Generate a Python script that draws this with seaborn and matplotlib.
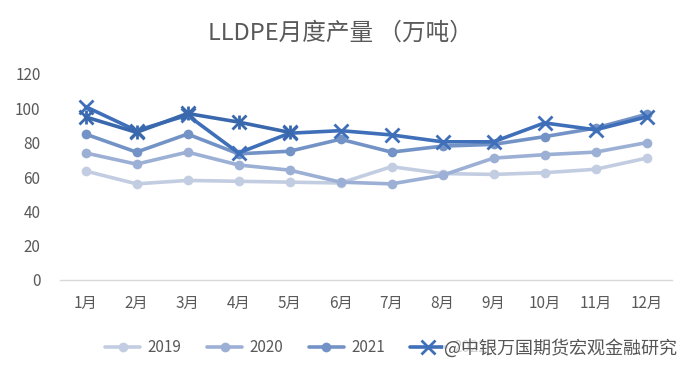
import matplotlib
matplotlib.use("Agg")
import matplotlib.pyplot as plt
import seaborn as sns
import pandas as pd

months = ["1月", "2月", "3月", "4月", "5月", "6月", "7月", "8月", "9月", "10月", "11月", "12月"]
y2019 = [63.5, 56, 58, 57.5, 57, 56.5, 66, 62, 61.5, 62.5, 64.5, 71]
y2020 = [74, 67.5, 74.5, 67, 64, 57, 56, 61, 71, 73, 74.5, 80]
y2021 = [85, 74.5, 85, 73.5, 75, 82, 74.5, 78, 79, 83.5, 88.5, 96.5]
y2022 = [101, 87, 96, 74, 85.5, 87, 84.5, 80.5, 80.5, 91.5, 87.5, 95]
y2023 = [95, 86, 97, 92, 86]

series = [
    ("2019", y2019, "#c3cde2", "o", 7),
    ("2020", y2020, "#9cb0d6", "o", 7),
    ("2021", y2021, "#7393c7", "o", 7),
    ("2022", y2022, "#3f6fb8", "x", 10),
    ("_2023", y2023, "#3a68ad", "x", 10),  # hidden under the watermark in the source
]

sns.set_theme(style="white")
plt.rcParams['font.family'] = ['Noto Sans CJK SC', 'DejaVu Sans']
plt.rcParams['axes.unicode_minus'] = False

fig = plt.figure(figsize=(6.95, 3.78), dpi=100)
ax = fig.add_axes([60 / 695, 1 - 280 / 378, 612 / 695, 206 / 378])

for name, vals, color, marker, ms in series:
    df = pd.DataFrame({"month": months[:len(vals)], "value": vals})
    sns.lineplot(data=df, x="month", y="value", ax=ax, color=color,
                 marker=marker, markersize=ms, markeredgewidth=2 if marker == "x" else 0,
                 markeredgecolor=color, linewidth=2.6, label=name, sort=False)

# 2023 points drawn with an extra vertical stroke (star-like markers)
df23 = pd.DataFrame({"month": months[:len(y2023)], "value": y2023})
sns.scatterplot(data=df23, x="month", y="value", ax=ax, marker="|", s=90,
                color="#3a68ad", linewidth=2, legend=False)

ax.set_xlim(-0.5, 11.5)
ax.set_ylim(0, 120)
ax.set_yticks(range(0, 121, 20))
ax.set_xlabel("")
ax.set_ylabel("")
for s in ["top", "right", "left"]:
    ax.spines[s].set_visible(False)
ax.spines["bottom"].set_color("#d9d9d9")
ax.spines["bottom"].set_linewidth(1)
ax.tick_params(axis="both", length=0, labelsize=11, colors="#595959")
ax.tick_params(axis="x", pad=11)
ax.tick_params(axis="y", pad=14)
ax.grid(False)

fig.text(0.49, 1 - 33 / 378, "LLDPE月度产量 （万吨）", ha="center", va="center",
         fontsize=17, color="#595959")

ax.legend(loc="center left", bbox_to_anchor=(99 / 695, 1 - 348 / 378), bbox_transform=fig.transFigure,
          ncol=4, frameon=False, fontsize=11, handlelength=2.3, columnspacing=1.65,
          handletextpad=0.5, borderaxespad=0, labelcolor="#595959")

fig.text(444 / 695, 1 - 348 / 378, "@中银万国期货宏观金融研究", ha="left", va="center",
         fontsize=13, color="#555555",
         bbox=dict(facecolor="white", edgecolor="none", alpha=0.75, pad=0.5))

fig.savefig("out.png", dpi=100)
